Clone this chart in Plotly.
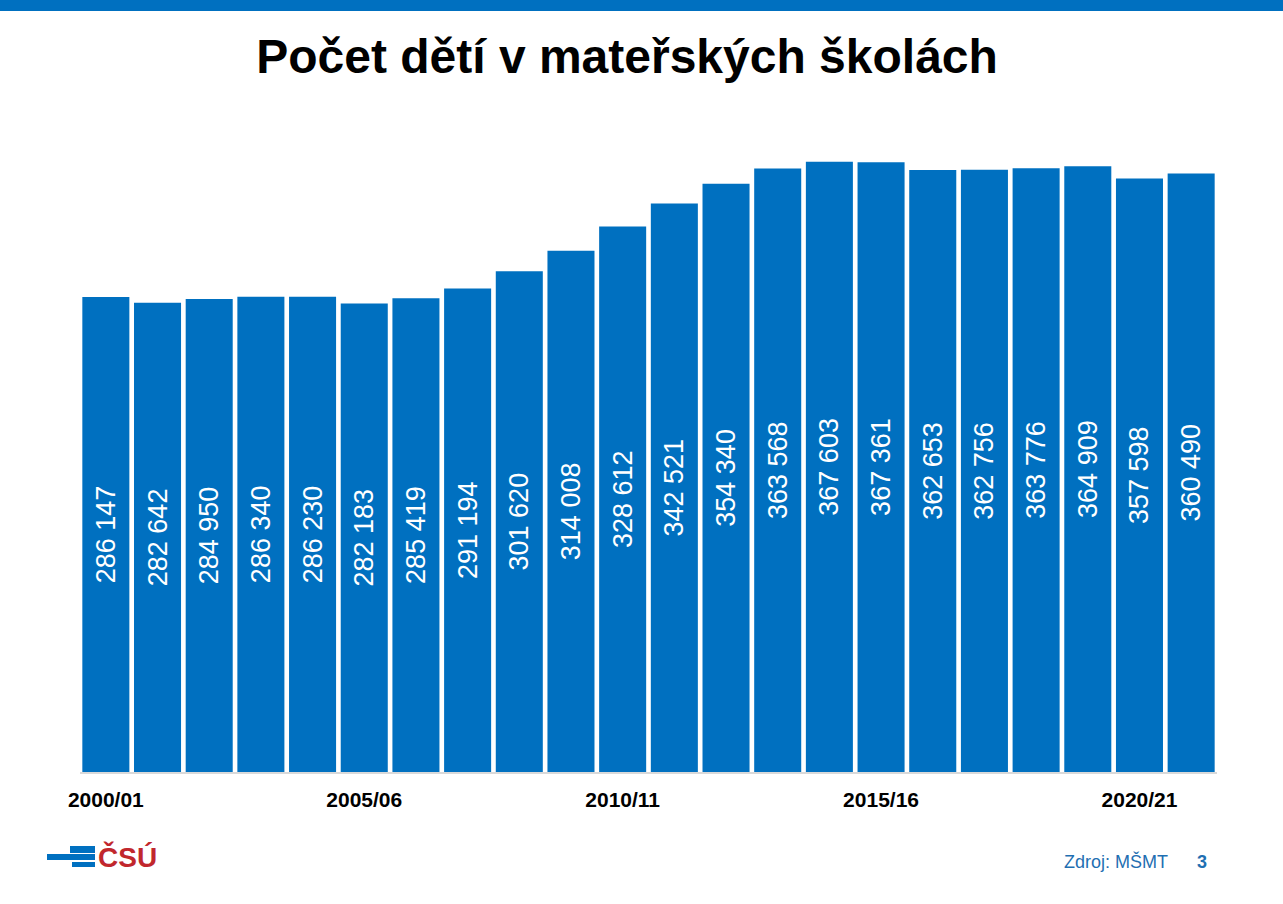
import plotly.graph_objects as go

years = ["2000/01", "2001/02", "2002/03", "2003/04", "2004/05", "2005/06",
         "2006/07", "2007/08", "2008/09", "2009/10", "2010/11", "2011/12",
         "2012/13", "2013/14", "2014/15", "2015/16", "2016/17", "2017/18",
         "2018/19", "2019/20", "2020/21", "2021/22"]
children = [286147, 282642, 284950, 286340, 286230, 282183, 285419, 291194,
            301620, 314008, 328612, 342521, 354340, 363568, 367603, 367361,
            362653, 362756, 363776, 364909, 357598, 360490]
shown_ticks = ["2000/01", "2005/06", "2010/11", "2015/16", "2020/21"]

blue = "#0070C0"
font = "Arial, Liberation Sans, sans-serif"

W, H = 1283, 904
L, R, T, B = 80, 66, 108, 132
pw, ph = W - L - R, H - T - B


def px(x):
    return (x - L) / pw


def py(y):
    return (H - B - y) / ph


labels = [f"{v:,}".replace(",", " ") for v in children]

fig = go.Figure(go.Bar(
    x=years, y=children,
    marker=dict(color=blue, line=dict(width=0)),
    text=labels,
    textposition="inside",
    insidetextanchor="middle",
    textangle=-90,
    textfont=dict(family=font, size=27, color="white"),
    hoverinfo="x+y",
))

fig.update_layout(
    width=W, height=H,
    margin=dict(l=L, r=R, t=T, b=B),
    paper_bgcolor="white", plot_bgcolor="white",
    bargap=0.09,
    showlegend=False,
    title=dict(text="<b>Počet dětí v mateřských školách</b>",
               font=dict(family=font, size=48, color="black"),
               x=px(627), xref="paper", xanchor="center",
               y=1 - 56 / H, yref="container", yanchor="middle"),
    xaxis=dict(
        tickmode="array", tickvals=shown_ticks,
        ticktext=[f"<b>{t}</b>" for t in shown_ticks],
        tickfont=dict(family=font, size=21, color="black"),
        ticks="", ticklabelstandoff=8,
        showline=True, linecolor="#d9d9d9", linewidth=1.5,
        showgrid=False,
    ),
    yaxis=dict(range=[0, 400000], visible=False, showgrid=False),
)

shapes = [
    # top band
    dict(type="rect", xref="paper", yref="paper",
         x0=px(0), x1=px(W), y0=py(11), y1=py(0),
         fillcolor=blue, line=dict(width=0), layer="above"),
    # logo bars
    dict(type="rect", xref="paper", yref="paper",
         x0=px(70), x1=px(95), y0=py(853), y1=py(846),
         fillcolor=blue, line=dict(width=0)),
    dict(type="rect", xref="paper", yref="paper",
         x0=px(47), x1=px(95), y0=py(860), y1=py(854),
         fillcolor=blue, line=dict(width=0)),
    dict(type="rect", xref="paper", yref="paper",
         x0=px(72), x1=px(95), y0=py(867), y1=py(862),
         fillcolor=blue, line=dict(width=0)),
]
fig.update_layout(shapes=shapes)

fig.add_annotation(text="<b>ČSÚ</b>", xref="paper", yref="paper",
                   x=px(96), y=py(857), xanchor="left", yanchor="middle",
                   showarrow=False,
                   font=dict(family=font, size=28, color="#C1272D"))
fig.add_annotation(text="Zdroj: MŠMT", xref="paper", yref="paper",
                   x=px(1170), y=py(862), xanchor="right", yanchor="middle",
                   showarrow=False,
                   font=dict(family=font, size=18, color="#1F6FB2"))
fig.add_annotation(text="<b>3</b>", xref="paper", yref="paper",
                   x=px(1202), y=py(862), xanchor="center", yanchor="middle",
                   showarrow=False,
                   font=dict(family=font, size=18, color="#1F6FB2"))

fig.write_html("out.html",
               config={"displayModeBar": False},
               post_script="document.body.style.margin='0';"
                           "document.body.style.overflow='hidden';")
